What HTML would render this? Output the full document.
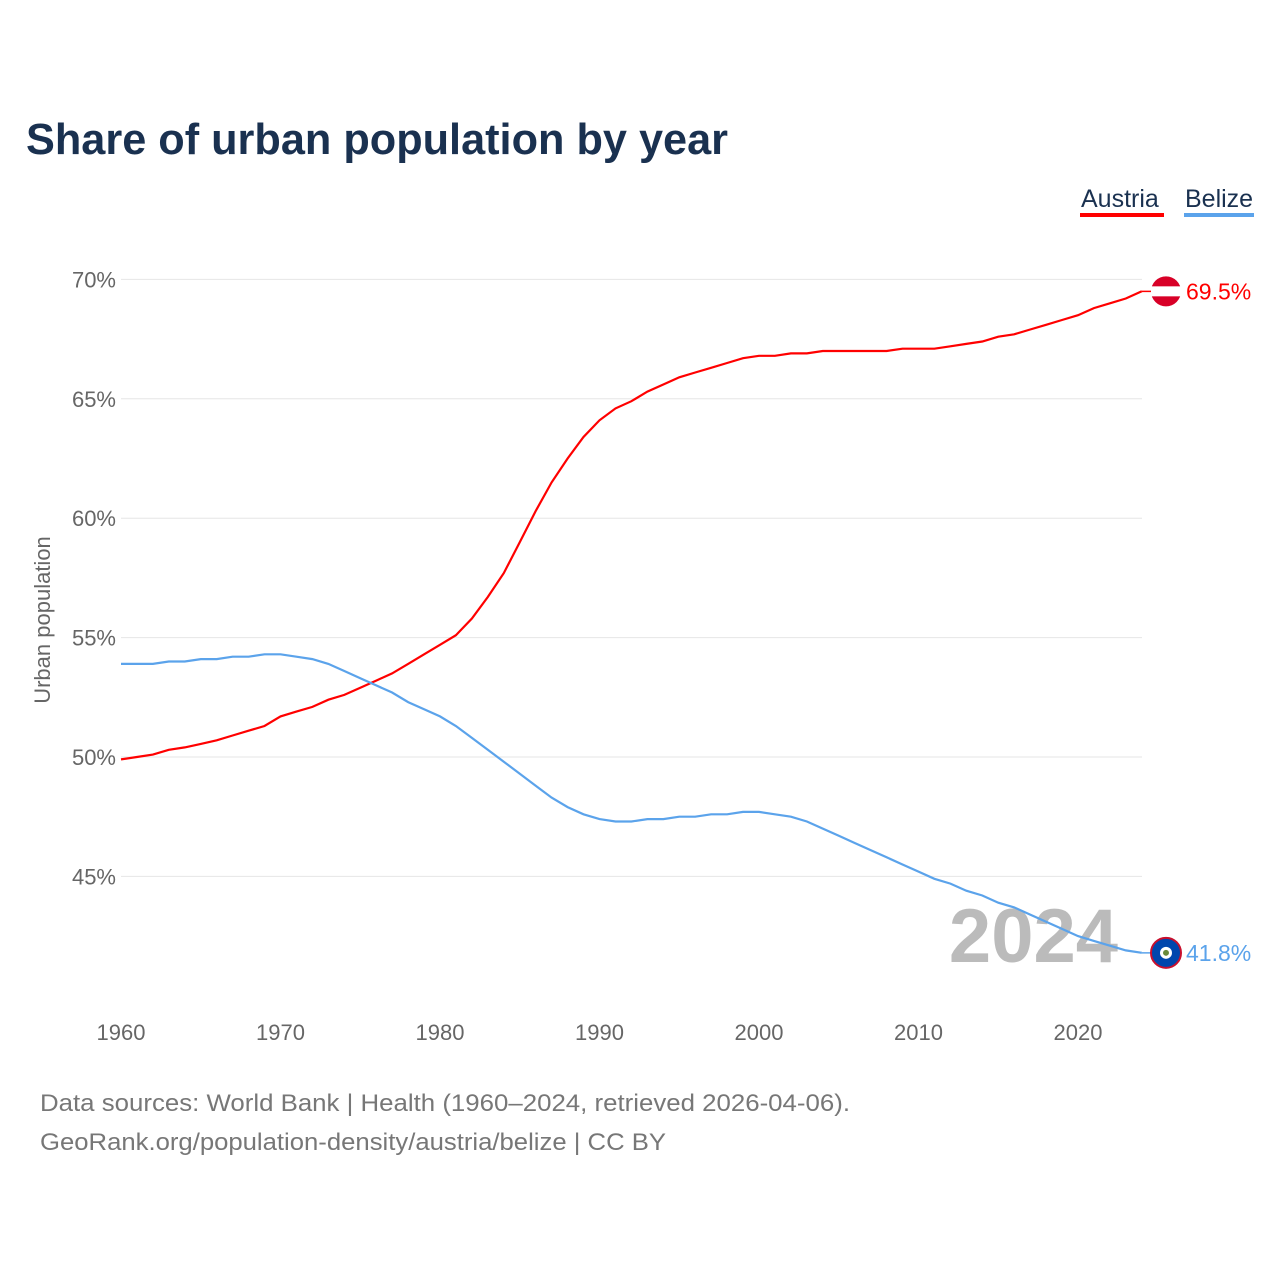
<!DOCTYPE html>
<html><head><meta charset="utf-8"><style>
body{margin:0;background:#fff;width:1280px;height:1280px;overflow:hidden;font-family:"Liberation Sans",sans-serif}
</style></head><body>
<svg id="chart" width="1280" height="1280" xmlns="http://www.w3.org/2000/svg">
<text x="26" y="154" font-size="44" font-weight="bold" fill="#1a3150" textLength="702" lengthAdjust="spacingAndGlyphs">Share of urban population by year</text>
<g><text x="1081" y="207" font-size="25" fill="#1a3150">Austria</text><rect x="1080" y="213" width="84" height="4" fill="#ff0000"/></g>
<g><text x="1185" y="207" font-size="25" fill="#1a3150">Belize</text><rect x="1184" y="213" width="70" height="4" fill="#5ba3eb"/></g>
<text transform="translate(50,620) rotate(-90)" text-anchor="middle" font-size="22" fill="#666">Urban population</text>
<g id="grid"></g><g id="xt"></g>
<text x="1118" y="962" text-anchor="end" font-size="76" font-weight="bold" fill="#bbb">2024</text>
<g id="lines"></g>
<text x="40" y="1111" font-size="24" fill="#777" textLength="810" lengthAdjust="spacingAndGlyphs">Data sources: World Bank | Health (1960–2024, retrieved 2026-04-06).</text>
<text x="40" y="1150" font-size="24" fill="#777" textLength="626" lengthAdjust="spacingAndGlyphs">GeoRank.org/population-density/austria/belize | CC BY</text>
</svg>
<script>
const years=[];for(let y=1960;y<=2024;y++)years.push(y);
const austria=[49.9,50.0,50.1,50.3,50.4,50.55,50.7,50.9,51.1,51.3,51.7,51.9,52.1,52.4,52.6,52.9,53.2,53.5,53.9,54.3,54.7,55.1,55.8,56.7,57.7,59.0,60.3,61.5,62.5,63.4,64.1,64.6,64.9,65.3,65.6,65.9,66.1,66.3,66.5,66.7,66.8,66.8,66.9,66.9,67.0,67.0,67.0,67.0,67.0,67.1,67.1,67.1,67.2,67.3,67.4,67.6,67.7,67.9,68.1,68.3,68.5,68.8,69.0,69.2,69.5];
const belize=[53.9,53.9,53.9,54.0,54.0,54.1,54.1,54.2,54.2,54.3,54.3,54.2,54.1,53.9,53.6,53.3,53.0,52.7,52.3,52.0,51.7,51.3,50.8,50.3,49.8,49.3,48.8,48.3,47.9,47.6,47.4,47.3,47.3,47.4,47.4,47.5,47.5,47.6,47.6,47.7,47.7,47.6,47.5,47.3,47.0,46.7,46.4,46.1,45.8,45.5,45.2,44.9,44.7,44.4,44.2,43.9,43.7,43.4,43.1,42.8,42.5,42.3,42.1,41.9,41.8];
const yTicks=[45,50,55,60,65,70];
const xTicks=[1960,1970,1980,1990,2000,2010,2020];
const X=y=>121+(y-1960)*15.95, Y=v=>757-(v-50)*23.88;
const NS="http://www.w3.org/2000/svg";
function mk(t,a,p){const e=document.createElementNS(NS,t);for(const k in a)e.setAttribute(k,a[k]);p.appendChild(e);return e;}
const grid=document.getElementById('grid'),xt=document.getElementById('xt'),L=document.getElementById('lines');
yTicks.forEach(v=>{const l=mk('line',{x1:121,x2:1142,y1:Y(v),y2:Y(v),stroke:'#e6e6e6'},grid);


const t=mk('text',{x:116,y:Y(v)+8,'text-anchor':'end','font-size':22,fill:'#666'},grid);t.textContent=v+'%';

});
xTicks.forEach(v=>{const t=mk('text',{x:X(v),y:1040,'text-anchor':'middle','font-size':22,fill:'#666'},xt);t.textContent=v;

});
function series(data,col,name,flag){
const p=mk('path',{d:data.map((v,i)=>(i?'L':'M')+X(years[i]).toFixed(1)+','+Y(v).toFixed(1)).join(''),fill:'none',stroke:col,'stroke-width':2.2},L);


const last=data[data.length-1],ly=Y(last);
mk('line',{x1:X(2024),x2:1166,y1:ly,y2:ly,stroke:col,'stroke-width':1.5},L);
const g=mk('g',{},L);


flag(g,ly);
const t=mk('text',{x:1186,y:ly+8,'font-size':23,fill:col},L);t.textContent=last.toFixed(1)+'%';

}
series(austria,'#ff0000','austria',(g,y)=>{mk('circle',{cx:1166,cy:y,r:15,fill:'#d80027'},g);mk('rect',{x:1151,y:y-5,width:30,height:10,fill:'#fff'},g);});
series(belize,'#5ba3eb','belize',(g,y)=>{mk('circle',{cx:1166,cy:y,r:15,fill:'#0046ad',stroke:'#c8102e','stroke-width':2},g);mk('circle',{cx:1166,cy:y,r:6,fill:'#fff'},g);mk('circle',{cx:1166,cy:y,r:3,fill:'#6a8a3a'},g);});
</script>
</body></html>
